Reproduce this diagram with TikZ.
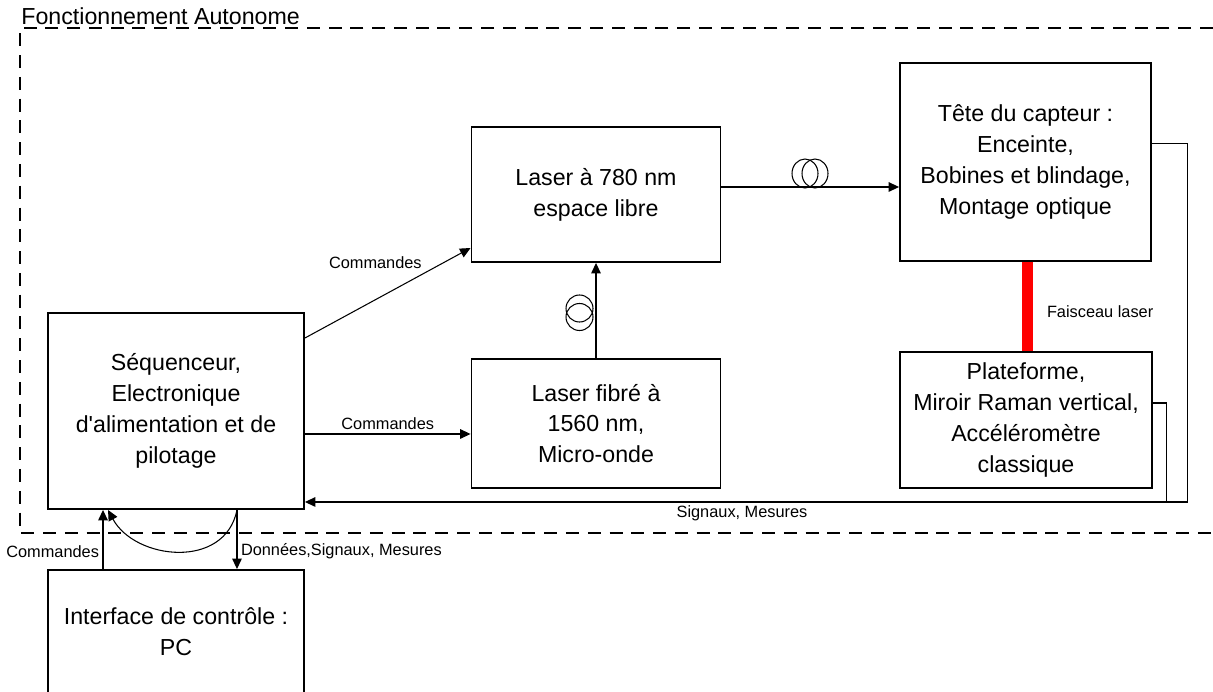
\documentclass[tikz,border=0pt]{standalone}
\usepackage{fontspec}
\setmainfont{Liberation Sans}
\usetikzlibrary{arrows.meta, positioning}

\begin{document}
\begin{tikzpicture}[
    x=0.02cm, y=-0.02cm,
    font=\fontsize{13.2}{17.6}\selectfont,
    bloc/.style={
        draw, line width=1.1pt,
        align=center,
        inner sep=2pt
    },
    arrow/.style={-{Triangle[length=6pt,width=5.5pt]}, line width=0.6pt},
    link/.style={line width=0.6pt},
    beam/.style={red, line width=6.8pt},
    frame/.style={line width=1.1pt, dash pattern=on 7.4pt off 5pt},
    note/.style={font=\fontsize{9.3}{11}\selectfont, inner sep=2pt}
]
\useasboundingbox (0,0) rectangle (1213,692);

% ===== FRAME =====
\draw[frame] (1213,28) -- (20,28) -- (20,533) -- (1213,533);
\node[anchor=base west, inner sep=0pt] (titre) at (21,25) {Fonctionnement Autonome};

% ===== BLOCKS =====
\node[bloc, minimum width=5.12cm, minimum height=3.92cm] (seq) at (176,411)
{Séquenceur,\\Electronique\\d\textquotesingle alimentation et de\\pilotage};

\node[bloc, minimum width=4.98cm, minimum height=2.7cm] (laser) at (596,194.5)
{Laser à 780 nm\\espace libre};

\node[bloc, minimum width=4.98cm, minimum height=2.58cm] (fibre) at (596,423.5)
{Laser fibré à\\1560 nm,\\Micro-onde};

\node[bloc, minimum width=5.02cm, minimum height=3.96cm] (tete) at (1025.5,162)
{Tête du capteur :\\Enceinte,\\Bobines et blindage,\\Montage optique};

\node[bloc, minimum width=5.04cm, minimum height=2.72cm] (plate) at (1026,420)
{Plateforme,\\Miroir Raman vertical,\\Accéléromètre\\classique};

\node[bloc, minimum width=5.12cm, minimum height=2.48cm] (pc) at (176,632)
{Interface de contrôle :\\PC};

% ===== COMMANDS =====
\draw[arrow] ([yshift=1.46cm]seq.east) -- node[note, above=0.55cm, pos=0.425]{Commandes} ([yshift=-1.07cm]laser.west);

\coordinate (cmd) at ([yshift=-0.46cm]seq.east);
\draw[arrow] (cmd) -- node[note, above]{Commandes} (cmd -| fibre.west);

% fibre coil between the two lasers
\draw[arrow] (fibre.north) -- (fibre.north |- laser.south);
\draw[link] (579.5,308.5) ellipse [x radius=0.27cm, y radius=0.27cm];
\draw[link] (579.5,317) ellipse [x radius=0.27cm, y radius=0.27cm];

% free-space laser to sensor head, with fibre coil
\coordinate (out) at ([yshift=0.15cm]laser.east);
\draw[arrow] (out) -- (out -| tete.west);
\draw[link] (805,173.5) ellipse [x radius=0.26cm, y radius=0.29cm];
\draw[link] (815,173.5) ellipse [x radius=0.26cm, y radius=0.29cm];

% ===== LASER BEAM =====
\draw[beam] ([xshift=0.04cm]tete.south) -- node[note, right=0.2cm, yshift=-0.1cm, black]{Faisceau laser} ([xshift=0.04cm]tete.south |- plate.north);

% ===== SIGNALS BACK TO SEQUENCER =====
\coordinate (seqin) at ([yshift=-1.82cm]seq.east);
\coordinate (teteout) at ([yshift=0.37cm]tete.east);
\coordinate (plateout) at ([yshift=0.34cm]plate.east);
\coordinate (rail) at ([xshift=0.72cm]tete.east);
\coordinate (rail2) at ([xshift=0.28cm]plate.east);

\draw[arrow] (teteout) -- (teteout -| rail) -- (rail |- seqin)
  -- node[note, below, pos=0.505]{Signaux, Mesures} (seqin);
\draw[link] (plateout) -- (plateout -| rail2) -- (rail2 |- seqin);

% ===== PC LINK =====
\coordinate (up) at ([xshift=-1.46cm]pc.north);
\coordinate (down) at ([xshift=1.22cm]seq.south);
\draw[arrow] (up) -- node[note, left, pos=0.3]{Commandes} (up |- seq.south);
\draw[arrow] (down) -- node[note, right, pos=0.7]{Données,Signaux, Mesures} (down |- pc.north);
\draw[arrow] (down) .. controls (225,570) and (135,560) .. ([xshift=-1.36cm]seq.south);

\end{tikzpicture}
\end{document}
